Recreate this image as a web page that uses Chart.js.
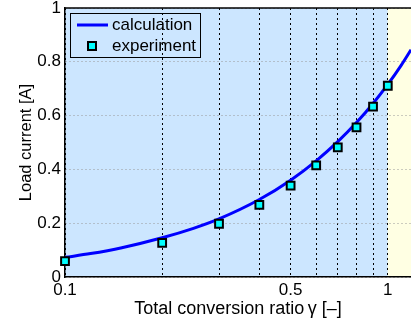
<!DOCTYPE html>
<html>
<head>
<meta charset="utf-8">
<script src="https://cdn.jsdelivr.net/npm/chart.js@4.4.0/dist/chart.umd.min.js"></script>
<style>
  html, body { margin: 0; padding: 0; background: #fff; }
  #wrap { width: 411px; height: 322px; position: relative; }
</style>
</head>
<body>
<div id="wrap"><canvas id="loadChart"></canvas></div>
<script>
// Series names (legend order)
const seriesNames = ["calculation", "experiment"];

// Measured points
const gammaExp = [0.1, 0.2, 0.3, 0.4, 0.5, 0.6, 0.7, 0.8, 0.9, 1.0];
const currentExp = [0.059, 0.127, 0.198, 0.268, 0.34, 0.415, 0.482, 0.556, 0.633, 0.711];

// Calculated curve
const gammaCalc = [0.1, 0.12, 0.15, 0.2, 0.25, 0.3, 0.4, 0.5, 0.6, 0.7, 0.8, 0.9, 1.0, 1.1, 1.18];
const currentCalc = [0.073, 0.087, 0.109, 0.146, 0.181, 0.216, 0.288, 0.36, 0.432, 0.503, 0.574, 0.645, 0.716, 0.787, 0.845];

// Axes
const xGridValues = [0.1, 0.2, 0.3, 0.4, 0.5, 0.6, 0.7, 0.8, 0.9, 1.0];
const xTickLabels = ["0.1", "", "", "", "0.5", "", "", "", "", "1"];
const yTickValues = [0, 0.2, 0.4, 0.6, 0.8, 1];
const yTickLabels = ["0", "0.2", "0.4", "0.6", "0.8", "1"];
const xRange = [0.1, 1.18];
const yRange = [0, 1];
const gammaBoundary = 1; // blue region ends, yellow region starts

const FONT = "'Liberation Sans', Arial, sans-serif";
Chart.defaults.font.family = FONT;
Chart.defaults.color = "#000";

// Shaded plot background (blue up to gamma = 1, yellow beyond)
const plotBackground = {
	id: "plotBackground",
	beforeDraw(chart) {
		const { ctx, chartArea: a, scales } = chart;
		const xb = scales.x.getPixelForValue(gammaBoundary);
		ctx.save();
		ctx.fillStyle = "#cce6ff";
		ctx.fillRect(a.left, a.top, xb - a.left, a.bottom - a.top);
		ctx.fillStyle = "#ffffe3";
		ctx.fillRect(xb, a.top, a.right - xb, a.bottom - a.top);
		ctx.restore();
	},
	afterDraw(chart) {
		// top box edge
		const { ctx, chartArea: a } = chart;
		ctx.save();
		ctx.strokeStyle = "#000";
		ctx.lineWidth = 1.5;
		ctx.beginPath();
		ctx.moveTo(a.left, a.top);
		ctx.lineTo(a.right, a.top);
		ctx.stroke();
		ctx.restore();
	},
};

// MATLAB-style legend box in the upper left of the plot
const legendBox = {
	id: "legendBox",
	afterDraw(chart) {
		const { ctx, chartArea: a } = chart;
		const x0 = a.left + 5, y0 = a.top + 5, w = 130, h = 44;
		ctx.save();
		ctx.strokeStyle = "#000";
		ctx.lineWidth = 1;
		ctx.strokeRect(x0 + 0.5, y0 + 0.5, w, h);

		ctx.strokeStyle = "#0000ff";
		ctx.lineWidth = 3;
		ctx.beginPath();
		ctx.moveTo(x0 + 7, y0 + 12);
		ctx.lineTo(x0 + 38, y0 + 12);
		ctx.stroke();

		ctx.fillStyle = "#00ffff";
		ctx.strokeStyle = "#000";
		ctx.lineWidth = 2;
		ctx.fillRect(x0 + 18, y0 + 29, 8, 8);
		ctx.strokeRect(x0 + 18, y0 + 29, 8, 8);

		ctx.fillStyle = "#000";
		ctx.font = "17px " + FONT;
		ctx.textBaseline = "middle";
		ctx.fillText(seriesNames[0], x0 + 42, y0 + 12);
		ctx.fillText(seriesNames[1], x0 + 42, y0 + 33);
		ctx.restore();
	},
};

const ctx = document.getElementById("loadChart").getContext("2d");
new Chart(ctx, {
	type: "scatter",
	data: {
		datasets: [
			{
				label: seriesNames[1],
				data: gammaExp.map((g, i) => ({ x: g, y: currentExp[i] })),
				pointStyle: "rect",
				pointRadius: 5.5,
				pointBackgroundColor: "#00ffff",
				pointBorderColor: "#000",
				pointBorderWidth: 2,
				showLine: false,
				clip: false,
				order: 0,
			},
			{
				label: seriesNames[0],
				data: gammaCalc.map((g, i) => ({ x: g, y: currentCalc[i] })),
				showLine: true,
				borderColor: "#0000ff",
				borderWidth: 3,
				pointRadius: 0,
				cubicInterpolationMode: "monotone",
				order: 1,
			},
		],
	},
	options: {
		responsive: true,
		maintainAspectRatio: false,
		animation: false,
		layout: { autoPadding: false, padding: { top: 8, right: 0, bottom: 0, left: 0 } },
		plugins: {
			legend: { display: false },
			tooltip: { enabled: false },
		},
		scales: {
			x: {
				type: "logarithmic",
				min: xRange[0],
				max: xRange[1],
				afterBuildTicks(scale) {
					scale.ticks = xGridValues.map((v) => ({ value: v }));
				},
				afterFit(scale) {
					scale.height = 45;
					scale.paddingLeft = 0;
					scale.paddingRight = 0;
				},
				ticks: {
					autoSkip: false,
					maxRotation: 0,
					padding: 3,
					font: { size: 17 },
					callback(value, index) {
						return xTickLabels[index];
					},
				},
				grid: { color: "#000", lineWidth: 1, drawTicks: false },
				border: { display: true, color: "#000", width: 1.5, dash: [2, 3] },
				title: {
					display: true,
					text: "Total conversion ratio\u2009γ [–]",
					font: { size: 18 },
					padding: { top: 0, bottom: 2 },
				},
			},
			y: {
				min: yRange[0],
				max: yRange[1],
				afterBuildTicks(scale) {
					scale.ticks = yTickValues.map((v) => ({ value: v }));
				},
				afterFit(scale) {
					scale.width = 65;
					scale.paddingTop = 0;
					scale.paddingBottom = 0;
				},
				ticks: {
					padding: 4,
					font: { size: 17 },
					callback(value, index) {
						return yTickLabels[index];
					},
				},
				grid: { color: "#999", lineWidth: 1, drawTicks: false },
				border: { display: true, color: "#000", width: 1.5, dash: [1, 3] },
				title: {
					display: true,
					text: "Load current [A]",
					font: { size: 16.5 },
					padding: { top: 17, bottom: 0 },
				},
			},
		},
	},
	plugins: [plotBackground, legendBox],
});
</script>
</body>
</html>
